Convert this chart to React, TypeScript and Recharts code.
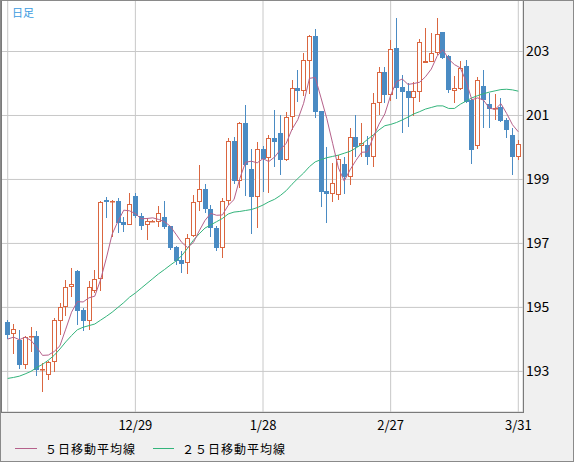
import React from "react";
import { ComposedChart, Bar, Line, XAxis, YAxis, CartesianGrid } from "recharts";

const opens = [
  194.53, 194.16, 193.99, 193.21, 194.06, 194.11, 193.03, 192.88, 193.28, 194.59,
  195.01, 195.63, 196.15, 194.92, 194.59, 195.5, 195.88, 198.36, 198.3, 198.34,
  197.67, 197.59, 198.48, 197.86, 197.57, 197.68, 197.68, 197.84, 197.53, 196.9,
  196.48, 196.38, 197.24, 198.29, 198.7, 198.07, 197.47, 196.87, 198.33, 200.2,
  198.96, 200.77, 199.33, 198.46, 199.94, 199.66, 200.29, 200.44, 199.6, 200.94,
  201.85, 201.78, 202.71, 203.49, 201.14, 198.63, 198.54, 198.5, 199.48, 199.07,
  200.34, 200.05, 200.08, 199.71, 201.38, 202.37, 201.64, 203.1, 201.88, 201.77,
  201.56, 201.74, 202.64, 202.68, 202.94, 203.6, 202.87, 201.76, 201.82, 202.55,
  201.48, 200.05, 201.92, 201.36, 201.2, 201.27, 200.86, 200.39, 199.71,
];
const highs = [
  194.6, 194.49, 194.3, 194.11, 194.38, 194.25, 193.26, 193.31, 194.66, 195.15,
  195.86, 196.23, 196.17, 194.98, 195.81, 196.16, 198.32, 198.45, 198.36, 198.41,
  197.84, 198.57, 198.57, 197.94, 197.79, 197.72, 198.17, 198.33, 197.55, 196.93,
  196.75, 197.3, 198.5, 199.45, 198.85, 198.2, 197.55, 198.43, 200.3, 200.34,
  200.8, 201.33, 199.95, 200.18, 200.05, 200.38, 201.17, 201.02, 201.12, 202.11,
  202.42, 202.94, 203.53, 203.7, 201.15, 200.03, 199.5, 199.75, 199.71, 200.6,
  201.02, 200.75, 200.35, 201.69, 202.53, 202.53, 203.35, 204.05, 202.27, 202.0,
  202.06, 203.4, 203.72, 203.57, 204.04, 203.62, 202.89, 202.23, 202.7, 202.73,
  201.5, 202.2, 202.42, 201.7, 201.67, 201.54, 200.91, 200.6, 200.22,
];
const lows = [
  194.0, 193.54, 193.07, 193.07, 193.62, 192.86, 192.37, 192.74, 192.97, 194.14,
  194.72, 195.34, 194.46, 194.25, 194.3, 195.45, 195.5, 197.79, 197.21, 197.34,
  197.37, 197.59, 197.8, 197.42, 197.12, 197.66, 197.52, 197.45, 196.8, 196.33,
  196.07, 196.05, 197.2, 198.0, 197.95, 197.21, 196.77, 196.54, 198.2, 198.85,
  198.74, 198.48, 197.28, 197.47, 198.6, 198.57, 199.4, 199.14, 199.58, 200.55,
  201.43, 201.6, 201.67, 200.92, 198.15, 197.65, 198.3, 198.35, 198.54, 198.83,
  199.71, 199.7, 199.45, 199.4, 201.01, 201.4, 201.45, 201.5, 200.44, 200.63,
  200.98, 201.43, 202.63, 202.66, 202.9, 202.75, 201.71, 201.38, 201.8, 201.4,
  199.48, 199.95, 200.6, 200.6, 200.86, 200.8, 200.3, 199.14, 199.62,
];
const closes = [
  194.14, 194.32, 193.21, 194.07, 194.11, 193.03, 193.06, 193.28, 194.61, 195.01,
  195.63, 195.74, 194.9, 194.59, 195.65, 195.88, 198.3, 198.3, 198.34, 197.65,
  197.59, 198.22, 197.85, 197.56, 197.69, 197.7, 197.94, 197.51, 196.87, 196.45,
  196.37, 197.16, 198.29, 198.7, 198.07, 197.47, 196.87, 198.33, 200.2, 198.96,
  200.77, 199.46, 198.46, 199.94, 199.64, 200.3, 200.18, 199.6, 200.94, 201.85,
  201.78, 202.73, 203.49, 201.12, 198.62, 198.54, 198.88, 199.65, 199.07, 200.34,
  200.03, 200.15, 199.71, 201.38, 202.37, 201.64, 203.07, 201.86, 201.74, 201.56,
  201.77, 203.29, 202.69, 202.96, 203.55, 202.8, 201.8, 201.85, 202.47, 201.43,
  199.92, 202.1, 201.48, 201.2, 201.24, 200.84, 200.55, 199.71, 200.11,
];
const ma5 = [
  194.01, 194.07, 193.99, 194.07, 193.97, 193.75, 193.5, 193.51, 193.62, 193.8,
  194.32, 194.85, 195.18, 195.17, 195.3, 195.35, 195.86, 196.54, 197.29, 197.69,
  198.04, 198.02, 197.93, 197.77, 197.78, 197.8, 197.75, 197.68, 197.54, 197.29,
  197.03, 196.87, 197.03, 197.39, 197.72, 197.94, 197.88, 197.89, 198.19, 198.37,
  199.03, 199.54, 199.57, 199.52, 199.65, 199.56, 199.7, 199.93, 200.13, 200.57,
  200.87, 201.38, 202.16, 202.19, 201.55, 200.9, 200.13, 199.36, 198.95, 199.3,
  199.59, 199.85, 199.86, 200.32, 200.73, 201.05, 201.63, 202.06, 202.14, 201.97,
  202.0, 202.04, 202.21, 202.45, 202.85, 203.06, 202.76, 202.59, 202.49, 202.07,
  201.49, 201.55, 201.48, 201.23, 201.19, 201.37, 201.06, 200.71, 200.49,
];
const ma25 = [
  192.78, 192.81, 192.85, 192.92, 193.0, 193.12, 193.22, 193.35, 193.5, 193.7,
  193.92, 194.12, 194.3, 194.38, 194.43, 194.48, 194.6, 194.72, 194.85, 195.0,
  195.15, 195.32, 195.45, 195.6, 195.75, 195.9, 196.05, 196.18, 196.32, 196.45,
  196.62, 196.85, 197.1, 197.3, 197.48, 197.58, 197.68, 197.78, 197.92, 197.98,
  198.0, 198.03, 198.06, 198.12, 198.2, 198.3, 198.38, 198.5, 198.65, 198.85,
  199.03, 199.2, 199.4, 199.55, 199.62, 199.68, 199.72, 199.76, 199.82, 199.88,
  199.98, 200.1, 200.25, 200.39, 200.55, 200.68, 200.72, 200.78, 200.86, 200.95,
  201.05, 201.12, 201.2, 201.25, 201.3, 201.3, 201.22, 201.22, 201.35, 201.45,
  201.55, 201.62, 201.68, 201.73, 201.77, 201.81, 201.82, 201.8, 201.76,
];

const tickIndex = [0, 22, 44, 66, 88];
const tickLabels = ["", "12/29", "1/28", "2/27", "3/31"];
const priceTicks = [193, 195, 197, 199, 201, 203];

const UP = "#da6640";
const DOWN = "#4a8bc3";
const MA5_COLOR = "#b5618b";
const MA25_COLOR = "#33b47b";
const FONT = '"Noto Sans CJK JP", "Noto Sans", sans-serif';

const data = opens.map((open, i) => ({
  i,
  open,
  high: highs[i],
  low: lows[i],
  close: closes[i],
  range: [lows[i], highs[i]],
  ma5: ma5[i],
  ma25: ma25[i],
}));

function Candle(props: any) {
  const { x, y, width, height, payload } = props;
  if (payload == null) return null;
  const { open, close, high, low } = payload;
  const top = height >= 0 ? y : y + height;
  const h = Math.abs(height);
  const perUnit = h / (high - low);
  const toY = (v: number) => top + (high - v) * perUnit;
  const cx = Math.round(x + width / 2);
  const up = close >= open;
  const color = up ? UP : DOWN;
  const wTop = Math.round(toY(high));
  const wBot = Math.round(toY(low));
  const t = Math.round(toY(Math.max(open, close)));
  let b = Math.round(toY(Math.min(open, close)));
  if (b - t < 1) b = t + 1;

  return (
    <g>
      <rect x={cx} y={wTop} width={1} height={Math.max(1, wBot - wTop)} fill={color} />
      {up ? (
        <rect x={cx - 1.5} y={t + 0.5} width={4} height={Math.max(0.5, b - t - 1)} fill="#fff" stroke={color} strokeWidth={1} />
      ) : (
        <rect x={cx - 2} y={t} width={5} height={b - t} fill={color} />
      )}
    </g>
  );
}

export default function App() {
  return (
    <div style={{ position: "relative", width: 574, height: 462, background: "#f0f0f0", fontFamily: FONT }}>
      <style>{"body{margin:0}"}</style>
      <ComposedChart width={574} height={462} data={data} margin={{ top: 0, right: 0, bottom: 0, left: 0 }}>
        <CartesianGrid stroke="#c8c8c8" fill="#fff" />
        <XAxis
          dataKey="i"
          type="number"
          domain={[-1.33, 88.81]}
          allowDataOverflow
          ticks={tickIndex}
          interval={0}
          tickFormatter={(v: number) => tickLabels[tickIndex.indexOf(v)] ?? ""}
          height={50}
          tickLine={false}
          axisLine={false}
          tickMargin={3}
          tick={{ fill: "#000", fontSize: 13, fontFamily: FONT }}
        />
        <YAxis
          orientation="right"
          domain={[191.73, 204.61]}
          allowDataOverflow
          ticks={priceTicks}
          interval={0}
          width={51}
          tickLine={false}
          axisLine={false}
          tickSize={0}
          tickMargin={3}
          tick={{ fill: "#000", fontSize: 14, fontFamily: FONT }}
        />
        <Bar dataKey="range" barSize={5} shape={<Candle />} isAnimationActive={false} />
        <Line type="linear" dataKey="ma25" stroke={MA25_COLOR} strokeWidth={1} dot={false} activeDot={false} legendType="none" isAnimationActive={false} />
        <Line type="linear" dataKey="ma5" stroke={MA5_COLOR} strokeWidth={1} dot={false} activeDot={false} legendType="none" isAnimationActive={false} />
      </ComposedChart>

      <div style={{ position: "absolute", left: 0, top: 0, width: 524, height: 413, boxSizing: "border-box", border: "1px solid #7a7a7a", borderLeftWidth: 2, pointerEvents: "none" }} />
      <div style={{ position: "absolute", left: 0, top: 0, width: 574, height: 462, boxSizing: "border-box", border: "1px solid #8a8a8a", pointerEvents: "none" }} />

      <div style={{ position: "absolute", left: 12, top: 4, fontSize: 11, color: "#3b9be0" }}>日足</div>

      <div style={{ position: "absolute", left: 15, top: 440, display: "flex", alignItems: "center", fontSize: 12, letterSpacing: 1, color: "#000" }}>
        <span style={{ display: "inline-block", width: 22, height: 1, background: MA5_COLOR, marginRight: 8 }} />
        <span style={{ marginRight: 17 }}>５日移動平均線</span>
        <span style={{ display: "inline-block", width: 21, height: 1, background: MA25_COLOR, marginRight: 8 }} />
        <span>２５日移動平均線</span>
      </div>
    </div>
  );
}
